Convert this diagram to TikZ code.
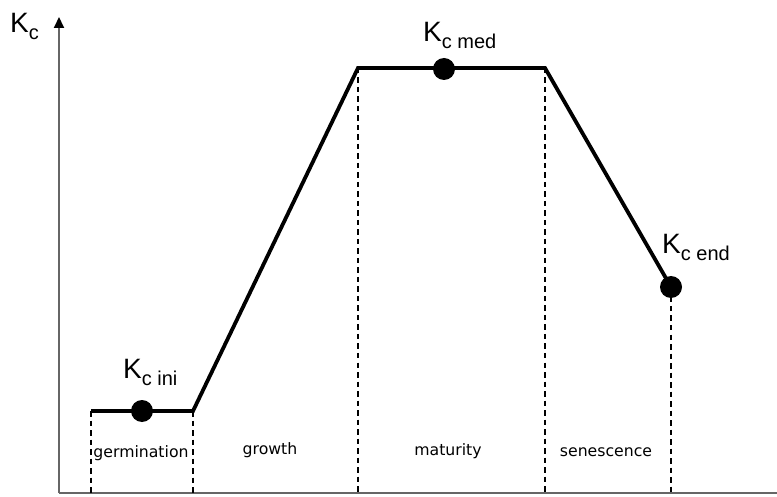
\documentclass[tikz,border=0pt]{standalone}
\usepackage{fontspec}
\setmainfont{Liberation Sans}
\newfontfamily\stagefont{DejaVu Sans}
\usetikzlibrary{arrows.meta}
\newcommand{\kcsub}[1]{K\raisebox{-7pt}{\fontsize{20}{20}\selectfont #1}}
\begin{document}
\begin{tikzpicture}[x=1pt,y=-1pt,
  axis/.style={draw=black!60, line width=2pt},
  axistip/.style={-{Triangle[length=11pt,width=10pt,color=black]}},
  curve/.style={line width=3.8pt, line join=miter},
  guide/.style={line width=1.5pt, dash pattern=on 5.5pt off 4pt},
  dot/.style={circle, fill=black, inner sep=0pt, minimum size=22pt},
  klabel/.style={anchor=base west, inner sep=0pt, font=\fontsize{28}{28}\selectfont},
  stage/.style={anchor=base, inner sep=0pt, font=\stagefont\fontsize{15.7}{16}\selectfont}]
\useasboundingbox (0,0) rectangle (777,497);

% axes
\coordinate (origin) at (59,493);
\coordinate (ytip) at (59,17);
\coordinate (xtip) at (788,493);
\draw[axis, axistip] (origin) -- (ytip);
\draw[axis, axistip] (origin) -- (xtip);
\node[klabel] (ylab) at (10,33) {\kcsub{c}};

% break points of the crop coefficient curve
\coordinate (p0) at (91,411);
\coordinate (p1) at (193,411);
\coordinate (p2) at (358,68);
\coordinate (p3) at (545,68);
\coordinate (p4) at (671,287);

% feet of the stage boundaries on the time axis
\coordinate (b0) at (91,493);
\coordinate (b1) at (193,493);
\coordinate (b2) at (358,493);
\coordinate (b3) at (545,493);
\coordinate (b4) at (671,493);

% stage boundaries
\draw[guide] (p0) -- (b0);
\draw[guide] (p1) -- (b1);
\draw[guide] (p2) -- (b2);
\draw[guide] (p3) -- (b3);
\draw[guide] (p4) -- (b4);

% crop coefficient curve
\draw[curve] (p0) -- (p1) -- (p2) -- (p3) -- (p4);

% characteristic values
\node[dot] (kini) at (142,411) {};
\node[dot] (kmed) at (444,69) {};
\node[dot] (kend) at (671,287) {};
\node[klabel] (lini) at (123,378) {\kcsub{c ini}};
\node[klabel] (lmed) at (423,42) {\kcsub{c med}};
\node[klabel] (lend) at (662,254) {\kcsub{c end}};

% growth stages
\node[stage] (s1) at (141,457) {germination};
\node[stage] (s2) at (270,454) {growth};
\node[stage] (s3) at (448,455) {maturity};
\node[stage] (s4) at (606,456) {senescence};
\end{tikzpicture}
\end{document}
